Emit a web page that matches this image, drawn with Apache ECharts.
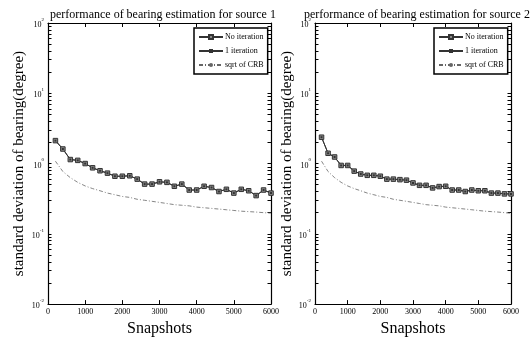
<!DOCTYPE html>
<html>
<head>
<meta charset="utf-8">
<script src="https://cdn.jsdelivr.net/npm/echarts@6/dist/echarts.min.js"></script>
<style>
  html, body { margin: 0; padding: 0; background: #fff; }
  #chart { width: 532px; height: 342px; }
</style>
</head>
<body>
<div id="chart"></div>
<script>
'use strict';

const snapshots = [200, 400, 600, 800, 1000, 1200, 1400, 1600, 1800, 2000,
  2200, 2400, 2600, 2800, 3000, 3200, 3400, 3600, 3800, 4000,
  4200, 4400, 4600, 4800, 5000, 5200, 5400, 5600, 5800, 6000];

// source 1
const noIter1 = [2.12, 1.61, 1.14, 1.11, 1.0, 0.87, 0.79, 0.73, 0.66, 0.66,
  0.67, 0.60, 0.51, 0.51, 0.55, 0.54, 0.475, 0.51, 0.42, 0.42,
  0.475, 0.456, 0.40, 0.43, 0.38, 0.43, 0.41, 0.35, 0.42, 0.38];
const oneIter1 = [2.12, 1.61, 1.14, 1.11, 1.0, 0.87, 0.79, 0.73, 0.66, 0.66,
  0.67, 0.60, 0.51, 0.51, 0.55, 0.54, 0.475, 0.51, 0.42, 0.42,
  0.475, 0.456, 0.40, 0.43, 0.38, 0.43, 0.41, 0.35, 0.42, 0.38];
const crb1 = [1.08, 0.77, 0.63, 0.54, 0.48, 0.44, 0.41, 0.38, 0.36, 0.34,
  0.33, 0.31, 0.30, 0.29, 0.28, 0.27, 0.26, 0.255, 0.25, 0.24,
  0.235, 0.23, 0.225, 0.22, 0.215, 0.21, 0.207, 0.204, 0.20, 0.197];

// source 2
const noIter2 = [2.37, 1.40, 1.24, 0.94, 0.94, 0.78, 0.71, 0.68, 0.68, 0.66,
  0.60, 0.60, 0.59, 0.58, 0.53, 0.49, 0.49, 0.45, 0.47, 0.475,
  0.42, 0.42, 0.40, 0.42, 0.41, 0.41, 0.38, 0.38, 0.37, 0.37];
const oneIter2 = [2.37, 1.40, 1.24, 0.94, 0.94, 0.78, 0.71, 0.68, 0.68, 0.66,
  0.60, 0.60, 0.59, 0.58, 0.53, 0.49, 0.49, 0.45, 0.47, 0.475,
  0.42, 0.42, 0.40, 0.42, 0.41, 0.41, 0.38, 0.38, 0.37, 0.37];
const crb2 = [1.08, 0.77, 0.63, 0.54, 0.48, 0.44, 0.41, 0.38, 0.36, 0.34,
  0.33, 0.31, 0.30, 0.29, 0.28, 0.27, 0.26, 0.255, 0.25, 0.24,
  0.235, 0.23, 0.225, 0.22, 0.215, 0.21, 0.207, 0.204, 0.20, 0.196];

const titles = ['performance of bearing estimation for source 1',
  'performance of bearing estimation for source 2'];
const seriesNames = ['No iteration', '1 iteration', 'sqrt of CRB'];
const yMajor = [0.01, 0.1, 1, 10, 100];
const yMinor = [0.02, 0.03, 0.04, 0.05, 0.06, 0.07, 0.08, 0.09,
  0.2, 0.3, 0.4, 0.5, 0.6, 0.7, 0.8, 0.9,
  2, 3, 4, 5, 6, 7, 8, 9,
  20, 30, 40, 50, 60, 70, 80, 90];

const FONT = 'Liberation Serif';

const pairs = ys => snapshots.map((x, i) => [x, ys[i]]);

const grids = [
  { left: 48, top: 23, width: 223, height: 285 },
  { left: 315, top: 23, width: 196, height: 285 }
];

const axisLine = { show: true, onZero: false, lineStyle: { color: '#000', width: 1.2 } };
const yTicks = { inside: true, length: 3.5, customValues: yMajor.concat(yMinor),
  lineStyle: { color: '#000', width: 1 } };

const xAxis = [];
const yAxis = [];
grids.forEach((g, gi) => {
  xAxis.push({
    type: 'value', gridIndex: gi, min: 0, max: 6000, interval: 1000,
    name: 'Snapshots', nameLocation: 'middle', nameGap: 11,
    nameTextStyle: { fontFamily: FONT, fontSize: 16, color: '#000' },
    axisLine: axisLine,
    axisTick: { inside: true, length: 4, lineStyle: { color: '#000' } },
    axisLabel: { fontFamily: FONT, fontSize: 8, color: '#000', margin: 4,
      formatter: v => String(v) },
    splitLine: { show: false }
  });
  xAxis.push({
    type: 'value', gridIndex: gi, min: 0, max: 6000, interval: 1000, position: 'top',
    axisLine: axisLine,
    axisTick: { inside: true, length: 4, lineStyle: { color: '#000' } },
    axisLabel: { show: false },
    splitLine: { show: false }
  });
  yAxis.push({
    type: 'log', gridIndex: gi, min: 0.01, max: 100, logBase: 10, position: 'left',
    name: 'standard deviation of bearing(degree)', nameLocation: 'middle',
    nameGap: gi === 0 ? 21 : 19,
    nameTextStyle: { fontFamily: FONT, fontSize: 15, color: '#000' },
    axisLine: axisLine,
    axisTick: yTicks,
    axisLabel: {
      margin: 4, color: '#000', customValues: yMajor,
      formatter: v => '{b|10}{s|' + Math.round(Math.log10(v)) + '}',
      rich: {
        b: { fontFamily: FONT, fontSize: 8, lineHeight: 12, verticalAlign: 'bottom' },
        s: { fontFamily: FONT, fontSize: 5, lineHeight: 12, verticalAlign: 'top' }
      }
    },
    splitLine: { show: false }
  });
  yAxis.push({
    type: 'log', gridIndex: gi, min: 0.01, max: 100, logBase: 10, position: 'right',
    axisLine: axisLine,
    axisTick: yTicks,
    axisLabel: { show: false },
    splitLine: { show: false }
  });
});

const sets = [[noIter1, oneIter1, crb1], [noIter2, oneIter2, crb2]];
const series = [];
sets.forEach((set, gi) => {
  series.push({
    name: seriesNames[0], type: 'line', xAxisIndex: gi * 2, yAxisIndex: gi * 2,
    data: pairs(set[0]), symbol: 'rect', symbolSize: 4.5,
    lineStyle: { color: '#333', width: 1 },
    itemStyle: { color: '#8a8a8a', borderColor: '#333', borderWidth: 1 }
  });
  series.push({
    name: seriesNames[1], type: 'line', xAxisIndex: gi * 2, yAxisIndex: gi * 2,
    data: pairs(set[1]), symbol: 'rect', symbolSize: 2,
    lineStyle: { color: '#333', width: 1 },
    itemStyle: { color: '#333' }
  });
  series.push({
    name: seriesNames[2], type: 'line', xAxisIndex: gi * 2, yAxisIndex: gi * 2,
    data: pairs(set[2]), symbol: 'none',
    lineStyle: { color: '#666', width: 0.8, type: [4, 2, 1, 2] },
    itemStyle: { color: '#666' }
  });
});

const legendBase = {
  orient: 'vertical', top: 28, data: seriesNames,
  backgroundColor: '#fff', borderColor: '#000', borderWidth: 1.5,
  padding: [5, 4, 5, 4], itemGap: 6, itemWidth: 24, itemHeight: 5,
  textStyle: { fontFamily: FONT, fontSize: 8, color: '#000', padding: [0, 0, 0, -3] },
  selectedMode: false
};

const chart = echarts.init(document.getElementById('chart'), null, { renderer: 'canvas' });
chart.setOption({
  animation: false,
  backgroundColor: '#fff',
  title: [
    { text: titles[0], left: 45, top: 4,
      textStyle: { fontFamily: FONT, fontSize: 12, fontWeight: 'normal', color: '#000' } },
    { text: titles[1], left: 299, top: 4,
      textStyle: { fontFamily: FONT, fontSize: 12, fontWeight: 'normal', color: '#000' } }
  ],
  legend: [
    Object.assign({}, legendBase, { left: 194 }),
    Object.assign({}, legendBase, { left: 434 })
  ],
  grid: grids,
  xAxis: xAxis,
  yAxis: yAxis,
  series: series
});
</script>
</body>
</html>
